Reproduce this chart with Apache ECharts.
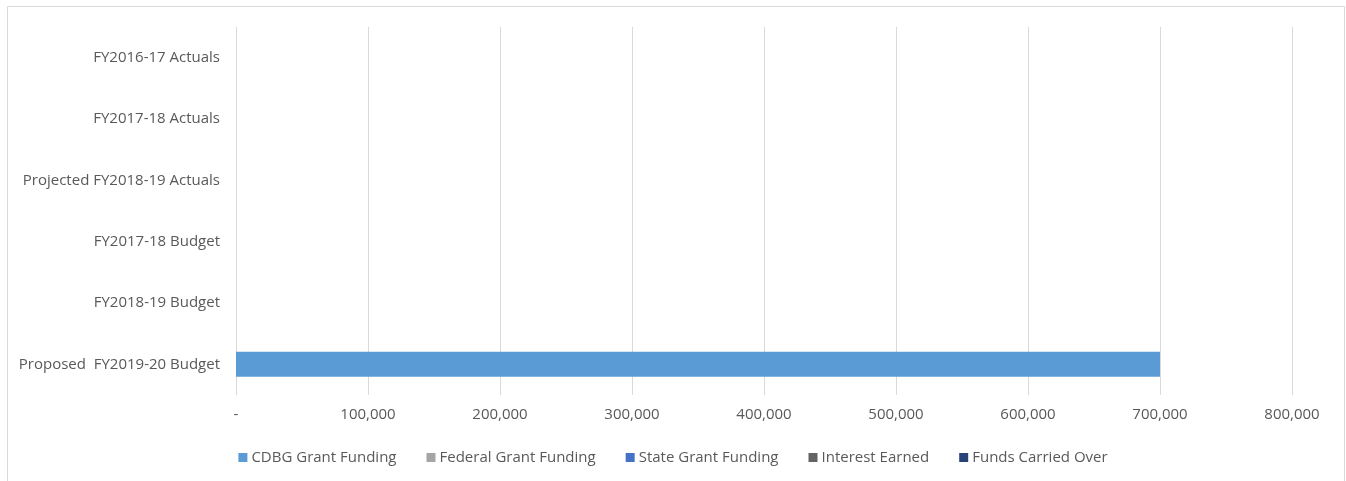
<!DOCTYPE html>
<html>
<head>
<meta charset="utf-8">
<script src="https://cdn.jsdelivr.net/npm/echarts@6/dist/echarts.min.js"></script>
<style>
  html, body { margin: 0; padding: 0; background: #fff; }
  #chart { width: 1346px; height: 481px; }
</style>
</head>
<body>
<div id="chart"></div>
<script>
// Fiscal periods shown on the vertical axis, top to bottom
const categories = [
  'FY2016-17 Actuals',
  'FY2017-18 Actuals',
  'Projected FY2018-19 Actuals',
  'FY2017-18 Budget',
  'FY2018-19 Budget',
  'Proposed  FY2019-20 Budget'
];

// Revenue sources (stacked)
const seriesNames = [
  'CDBG Grant Funding',
  'Federal Grant Funding',
  'State Grant Funding',
  'Interest Earned',
  'Funds Carried Over'
];

const cdbgGrant      = [0, 0, 0, 0, 0, 700000];
const federalGrant   = [0, 0, 0, 0, 0, 0];
const stateGrant     = [0, 0, 0, 0, 0, 0];
const interestEarned = [0, 0, 0, 0, 0, 0];
const carriedOver    = [0, 0, 0, 0, 0, 0];

const seriesValues = [cdbgGrant, federalGrant, stateGrant, interestEarned, carriedOver];
const seriesColors = ['#5B9BD5', '#A5A5A5', '#4472C4', '#636363', '#264478'];

const FONT = "'Open Sans', 'Noto Sans', sans-serif";
const TEXT = '#595959';

const chart = echarts.init(document.getElementById('chart'), null, { renderer: 'canvas' });

chart.setOption({
  animation: false,
  backgroundColor: '#fff',
  textStyle: { fontFamily: FONT },
  graphic: [{
    type: 'rect',
    shape: { x: 7.5, y: 6.5, width: 1337, height: 500 },
    style: { fill: 'none', stroke: '#D9D9D9', lineWidth: 1 },
    silent: true,
    z: -1
  }],
  grid: { left: 236, right: 54, top: 27, bottom: 86, containLabel: false },
  legend: {
    top: 445,
    left: 'center',
    itemWidth: 9,
    itemHeight: 9,
    itemGap: 30,
    icon: 'rect',
    textStyle: { color: TEXT, fontSize: 15, fontFamily: FONT, padding: [0, 0, 0, -1] },
    data: seriesNames
  },
  xAxis: {
    type: 'value',
    min: 0,
    max: 800000,
    interval: 100000,
    axisLine: { show: false },
    axisTick: { show: false },
    splitLine: { lineStyle: { color: '#D9D9D9', width: 1 } },
    axisLabel: {
      color: TEXT,
      fontSize: 15,
      fontFamily: FONT,
      margin: 12,
      formatter: v => v === 0 ? '-' : v.toLocaleString('en-US')
    }
  },
  yAxis: {
    type: 'category',
    inverse: true,
    data: categories,
    axisLine: { show: false },
    axisTick: { show: false },
    axisLabel: { color: TEXT, fontSize: 15, fontFamily: FONT, margin: 16 }
  },
  series: seriesNames.map((name, i) => ({
    name: name,
    type: 'bar',
    stack: 'total',
    barWidth: 25,
    itemStyle: { color: seriesColors[i] },
    data: seriesValues[i]
  }))
});
</script>
</body>
</html>
